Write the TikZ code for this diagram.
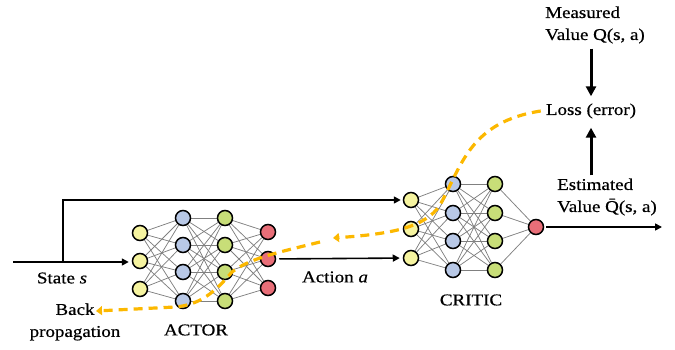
\documentclass[tikz,border=0pt]{standalone}
\usepackage{fontspec}
\setmainfont{Liberation Serif}[FakeStretch=1.15, FakeBold=0.6]
\usetikzlibrary{arrows.meta,backgrounds}
\definecolor{inyellow}{RGB}{246,244,160}
\definecolor{hidblue}{RGB}{184,200,230}
\definecolor{hidgreen}{RGB}{200,222,120}
\definecolor{outred}{RGB}{232,110,120}
\definecolor{backprop}{RGB}{252,184,0}
\tikzset{
  neuron/.style={circle, draw=black, line width=1.5pt, minimum size=15pt, inner sep=0pt},
  synapse/.style={black!50, line width=0.75pt},
  flow/.style={line width=1.6pt, -{Triangle[length=7pt,width=7pt]}},
  bigflow/.style={line width=3pt, -{Triangle[length=10pt,width=10pt]}},
  grad/.style={backprop, line width=3.2pt, dash pattern=on 9pt off 6pt, -{Triangle[length=6pt,width=9pt]}},
  txt/.style={font=\fontsize{16.5}{22}\selectfont, inner sep=3pt}
}

\begin{document}
\begin{tikzpicture}[x=1pt, y=-1pt]
\useasboundingbox (0,0) rectangle (675,350);
%Actor network
    \node[neuron, fill=inyellow] (ai1) at (140,233) {};
    \node[neuron, fill=inyellow] (ai2) at (140,261) {};
    \node[neuron, fill=inyellow] (ai3) at (140,289) {};
    \node[neuron, fill=hidblue] (ah1) at (183,218) {};
    \node[neuron, fill=hidblue] (ah2) at (183,245) {};
    \node[neuron, fill=hidblue] (ah3) at (183,272) {};
    \node[neuron, fill=hidblue] (ah4) at (183,301) {};
    \node[neuron, fill=hidgreen] (ag1) at (225,218) {};
    \node[neuron, fill=hidgreen] (ag2) at (225,245) {};
    \node[neuron, fill=hidgreen] (ag3) at (225,272) {};
    \node[neuron, fill=hidgreen] (ag4) at (225,301) {};
    \node[neuron, fill=outred] (ao1) at (268,232) {};
    \node[neuron, fill=outred] (ao2) at (268,259) {};
    \node[neuron, fill=outred] (ao3) at (268,288) {};
%Critic network
    \node[neuron, fill=inyellow] (ci1) at (411,200) {};
    \node[neuron, fill=inyellow] (ci2) at (411,229) {};
    \node[neuron, fill=inyellow] (ci3) at (411,258) {};
    \node[neuron, fill=hidblue] (ch1) at (453,184) {};
    \node[neuron, fill=hidblue] (ch2) at (453,213) {};
    \node[neuron, fill=hidblue] (ch3) at (453,241) {};
    \node[neuron, fill=hidblue] (ch4) at (453,270) {};
    \node[neuron, fill=hidgreen] (cg1) at (495,184) {};
    \node[neuron, fill=hidgreen] (cg2) at (495,213) {};
    \node[neuron, fill=hidgreen] (cg3) at (495,241) {};
    \node[neuron, fill=hidgreen] (cg4) at (495,270) {};
    \node[neuron, fill=outred] (co) at (536,227) {};
%Weights
    \begin{scope}[on background layer]
    \foreach \i in {1,2,3} \foreach \j in {1,...,4} {
        \draw[synapse] (ai\i) -- (ah\j);
        \draw[synapse] (ci\i) -- (ch\j);
        \draw[synapse] (ag\j) -- (ao\i);
    }
    \foreach \i in {1,...,4} {
        \foreach \j in {1,...,4} {
            \draw[synapse] (ah\i) -- (ag\j);
            \draw[synapse] (ch\i) -- (cg\j);
        }
        \draw[synapse] (cg\i) -- (co);
    }
    \end{scope}
%Labels
    \node[txt] (state) at (62,278) {State \textit{s}};
    \node[txt, align=center] (back) at (75,322) {Back\\propagation};
    \node[txt] (actor) at (196,330) {ACTOR};
    \node[txt] (critic) at (471,300) {CRITIC};
    \node[txt] (action) at (335,277) {Action \textit{a}};
    \node[txt, align=left, anchor=west] (est) at (554,197) {Estimated\\Value \=Q(s, a)};
    \node[txt] (loss) at (591,111) {Loss (error)};
    \node[txt, align=left, anchor=west] (meas) at (542,25) {Measured\\Value Q(s, a)};
%Signal flow
    \coordinate (sin) at (13,262);
    \coordinate (split) at (63,262);
    \coordinate (qout) at (662,227);
    \draw[flow, shorten >=3pt] (sin) -- (ai2.west |- sin);
    \draw[flow, shorten >=2pt] (split) |- (ci1);
    \draw[flow, shorten <=3pt, shorten >=3pt] (ao2) -- (ci3);
    \draw[flow, shorten <=2pt] (co) -- (qout);
    \draw[bigflow, shorten <=2pt, shorten >=4pt] (loss.north |- meas.south) -- (loss.north);
    \draw[bigflow, shorten >=6pt] (loss.south |- est.north) -- (loss.south);
%Gradient path
    \coordinate (gmid) at (333,238);
    \coordinate (gcont) at (320,242);
    \coordinate (gend) at (96,311);
    \draw[grad] ([xshift=-2pt]loss.west) .. controls (470,122) and (462,165) .. (440,205)
        .. controls (425,228) and (390,234) .. (gmid);
    \draw[grad] (gcont) .. controls (280,252) and (250,258) .. (232,272)
        .. controls (215,292) and (200,305) .. (175,307) -- (gend);
\end{tikzpicture}
\end{document}
